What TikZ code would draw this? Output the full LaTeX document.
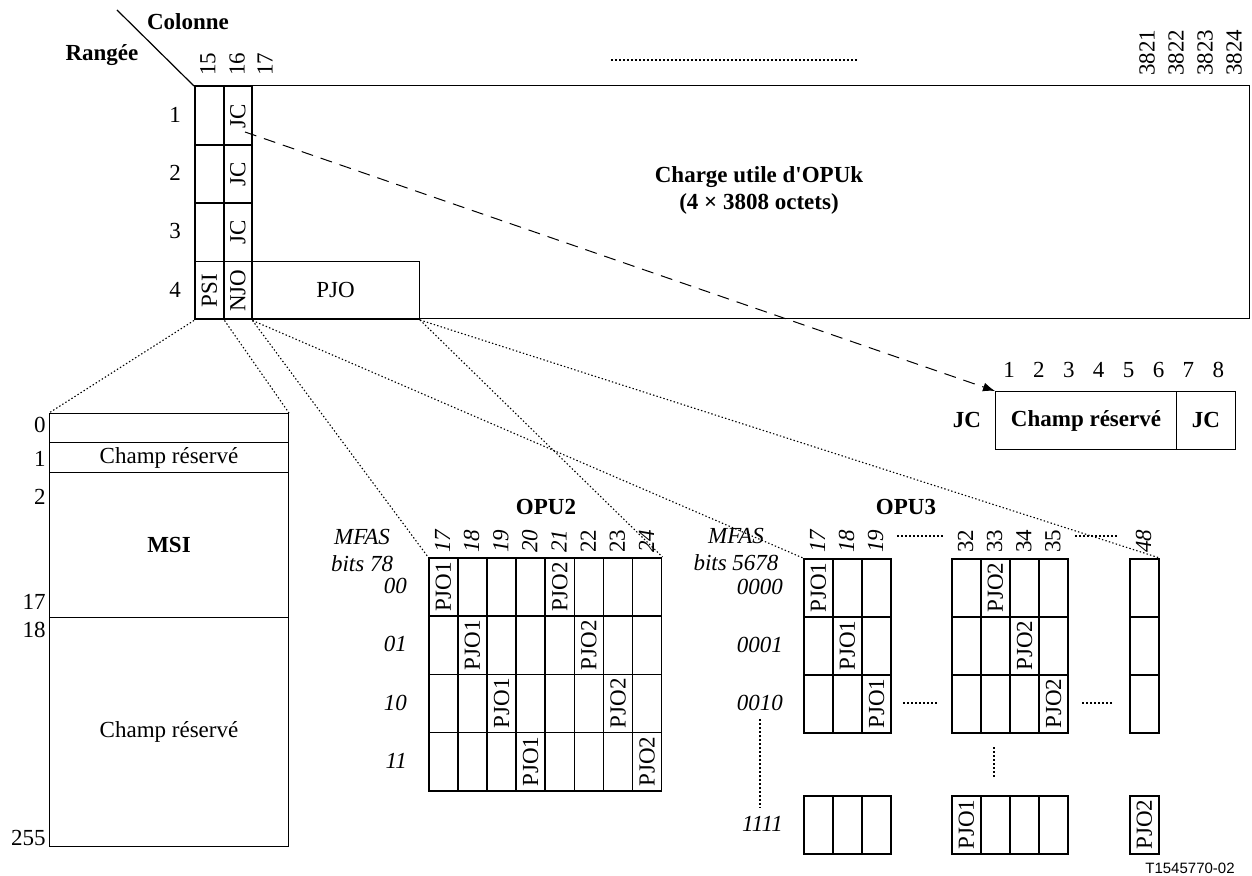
\documentclass[tikz,border=0pt]{standalone}
\usepackage{fontspec}
\setmainfont{Liberation Serif}
\newfontfamily\labelfont{Liberation Sans}
\usetikzlibrary{arrows.meta}
\tikzset{
	cell/.style={draw, line width=0.75pt, minimum width=14.5pt, minimum height=29.125pt, inner sep=0pt, anchor=north west},
	box/.style={draw, line width=0.5pt, inner sep=0pt, anchor=north west},
	colnum/.style={rotate=90, anchor=west, inner sep=0pt},
	vtext/.style={rotate=90, inner sep=0pt},
	fan/.style={line width=0.55pt, dash pattern=on 0.7pt off 1.1pt},
	dots/.style={line width=0.8pt, dash pattern=on 1pt off 1pt},
	ital/.style={font=\itshape},
	upright/.style={},
}
\begin{document}
\fontsize{11.5}{13.5}\selectfont
\begin{tikzpicture}[x=0.5pt, y=-0.5pt]
		\useasboundingbox (0,0) rectangle (1252,876);
		
		% en-tete
		\coordinate (diag) at (117,10);
		\node[font=\bfseries] (colonne) at (188,22) {Colonne};
		\node[font=\bfseries] (rangee) at (102,55) {Rangée};
		\foreach \n/\x in {15/208,16/237,17/265,3821/1147,3822/1176,3823/1205,3824/1234}
			\node[colnum] (c\n) at (\x,76) {\n};
		\draw[dots, line width=0.6pt] (611,60) -- (858,60);
		
		% trame OPUk
		\draw[line width=0.5pt] (194,86) rectangle (1249,319);
		\foreach \r in {1,2,3}{
			\node[cell] (e\r) at (194,{86+58.25*(\r-1)}) {};
			\node[cell, minimum width=14pt] (jc\r) at (223,{86+58.25*(\r-1)}) {};
			\node[vtext] at (jc\r) {JC};
			\node (r\r) at (175,{115+58.25*(\r-1)}) {\r};
		}
		\node[cell] (psi) at (194,260.75) {};
		\node[vtext] at (psi) {PSI};
		\node[cell, minimum width=14pt] (njo) at (223,260.75) {};
		\node[vtext] at (njo) {NJO};
		\node[box, minimum width=84pt, minimum height=29.125pt] (pjo) at (251,260.75) {PJO};
		\node (r4) at (175,290) {4};
		\node[font=\bfseries, align=center] (payload) at (759,190) {Charge utile d\textquotesingle OPUk\\(4 × 3808 octets)};
		\draw[line width=0.6pt] (diag) -- (e1.north west);
		
		% JC
		\coordinate (jcsrc) at (245,132);
		\node[box, minimum width=90.5pt, minimum height=29pt, font=\bfseries] (jcres) at (995,391) {Champ réservé};
		\node[box, minimum width=29.5pt, minimum height=29pt, font=\bfseries] (jcbit) at (1176,391) {JC};
		\node[font=\bfseries] (jcname) at (967,420) {JC};
		\foreach \b in {1,...,8}
			\node (bit\b) at ({1009+29.9*(\b-1)},370) {\b};
		\draw[line width=0.5pt, dash pattern=on 6pt off 4pt, -{Latex[length=6pt,width=4.5pt]}] (jcsrc) -- (jcres.north west);
		
		% PSI
		\node[box, minimum width=119.5pt, minimum height=14.5pt] (msi0) at (49,413) {};
		\node[box, minimum width=119.5pt, minimum height=15pt] (msi1) at (49,442) {Champ réservé};
		\node[box, minimum width=119.5pt, minimum height=72.5pt, font=\bfseries] (msi2) at (49,472) {MSI};
		\node[box, minimum width=119.5pt, minimum height=114.5pt] (msi3) at (49,617) {Champ réservé};
		\foreach \n/\y in {0/425,1/459,2/497,17/602,18/630,255/838}
			\node[anchor=east, inner sep=0pt] (o\n) at (46,\y) {\n};
		
		% OPU2
		\node[font=\bfseries] (opu2) at (546,507) {OPU2};
		\node[ital, align=center] (mfas2) at (362,550) {MFAS\\bits 78};
		\foreach \r in {0,...,3}
			\foreach \c in {0,...,7}
				\node[cell, minimum width=14.55pt] (p\r\c) at ({428+29.125*\c},{557+58.25*\r}) {};
		\foreach \r in {0,...,3}{
			\pgfmathtruncatemacro{\k}{\r+4}
			\node[vtext] at (p\r\r) {PJO1};
			\node[vtext] at (p\r\k) {PJO2};
		}
		\foreach \n/\s [count=\i from 0] in {17/ital,18/ital,19/ital,20/ital,21/ital,22/upright,23/upright,24/ital}
			\node[colnum,\s] (u\n) at ({428+29.125*(\i+0.5)},553) {\n};
		\foreach \m [count=\r from 0] in {00,01,10,11}
			\node[ital, anchor=east] (q\m) at (415,{586+58.25*\r}) {\m};
		
		% OPU3
		\node[font=\bfseries] (opu3) at (906,507) {OPU3};
		\node[ital, align=center] (mfas3) at (736,549) {MFAS\\bits 5678};
		\foreach \g/\x/\n in {a/803/3,b/951/4,c/1129/1}
			\foreach \c in {1,...,\n}
				\foreach \r/\y in {0/558,1/616,2/674,3/795}
					\node[cell, minimum width=14.55pt, minimum height=29pt] (\g\r\c) at ({\x+29.1*(\c-1)},\y) {};
		\foreach \cel/\t in {a01/PJO1,a12/PJO1,a23/PJO1,b02/PJO2,b13/PJO2,b24/PJO2,b31/PJO1,c31/PJO2}
			\node[vtext] at (\cel) {\t};
		\foreach \n/\x/\s in {17/817.5/ital,18/846.6/ital,19/875.7/ital,32/965.6/upright,33/994.7/upright,34/1023.8/upright,35/1052.9/upright,48/1143.5/ital}
			\node[colnum,\s] (t\n) at (\x,553) {\n};
		\foreach \m/\y in {0000/587,0001/645,0010/703,1111/824}
			\node[ital, anchor=east] (m\m) at (791,\y) {\m};
		\draw[dots] (897,536) -- (943,536);
		\draw[dots] (1075,536) -- (1117,536);
		\draw[dots] (903,703) -- (937,703);
		\draw[dots] (1082,703) -- (1113,703);
		\draw[dots] (994,747) -- (994,778);
		\draw[dots] (m0010.south) -- (m0010.south |- m1111.north);
		
		% liens
		\draw[fan] (psi.south west) -- (msi0.north west);
		\draw[fan] (psi.south east) -- (msi0.north east);
		\draw[fan] (njo.south east) -- (p00.north west);
		\draw[fan] (njo.south east) -- (a01.north west);
		\draw[fan] (pjo.south east) -- (p07.north east);
		\draw[fan] (pjo.south east) -- (c01.north east);
		
		\node[font=\labelfont\fontsize{7.5}{9}\selectfont] (ref) at (1190,868) {T1545770-02};
\end{tikzpicture}
\end{document}
